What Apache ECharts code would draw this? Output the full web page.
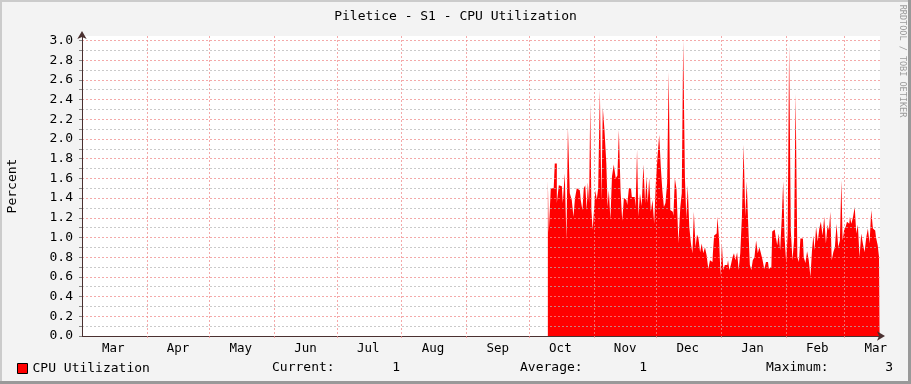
<!DOCTYPE html>
<html>
<head>
<meta charset="utf-8">
<script src="https://cdn.jsdelivr.net/npm/echarts@6/dist/echarts.min.js"></script>
<style>
html,body{margin:0;padding:0;background:#f3f3f3;}
#chart{width:911px;height:384px;}
</style>
</head>
<body>
<div id="chart"></div>
<script>
// ---------- data ----------
const chartTitle = 'Piletice - S1 - CPU Utilization';
const seriesName = 'CPU Utilization';
const yAxisTitle = 'Percent';
const startDate = Date.UTC(2010, 2, 1);   // left edge of the time axis (day 0)
const endDayOffset = 382;                  // right edge, days after start
const monthLabels = ['Mar','Apr','May','Jun','Jul','Aug','Sep','Oct','Nov','Dec','Jan','Feb','Mar'];
const statLabels = ['Current:', 'Average:', 'Maximum:'];
const statValues = ['1', '1', '3'];

const daysSinceStart = [
223.0,223.9,224.9,225.8,226.8,227.8,228.7,229.7,230.6,231.6,232.2,233.0,234.0,234.9,235.6,236.4,237.3,238.3,239.2,239.9,
240.5,241.3,241.9,242.4,243.1,243.5,244.2,244.7,245.5,246.1,246.7,247.5,248.3,249.0,249.6,250.6,251.4,251.8,252.6,253.3,
254.1,255.0,256.0,256.6,257.4,258.2,259.0,259.8,260.6,261.4,
262.2,262.8,263.6,264.6,265.4,266.0,266.7,267.5,268.3,269.2,269.9,270.5,271.1,271.9,272.7,273.5,274.3,275.1,275.9,276.7,
277.4,278.2,278.9,279.7,280.5,281.2,282.0,282.8,283.4,284.2,285.0,286.0,286.8,287.4,288.2,289.0,289.6,290.3,291.1,291.9,
292.5,293.3,294.1,294.7,295.5,296.3,297.0,297.8,298.6,299.4,300.2,301.0,301.8,
302.2,303.0,303.8,304.6,305.4,305.9,306.7,307.3,308.1,308.9,309.6,310.2,311.0,311.8,312.4,313.2,314.0,314.7,315.5,316.3,
317.1,317.9,318.5,319.3,320.1,320.7,321.5,322.3,323.1,323.9,324.6,325.4,326.2,327.0,327.8,328.4,329.2,330.0,330.8,331.6,
332.4,333.2,333.8,334.6,335.4,335.9,336.7,337.5,338.1,338.9,339.7,340.5,341.2,
342.0,342.9,343.5,344.3,345.1,345.9,346.7,347.5,348.3,349.1,349.8,350.4,351.0,351.8,352.6,353.3,354.1,354.9,355.7,356.5,
357.3,357.9,358.5,359.3,360.0,360.8,361.6,362.4,363.2,363.8,364.4,365.2,365.9,366.5,367.3,367.9,368.7,369.5,370.3,371.0,
371.8,372.6,373.4,374.2,375.0,375.8,376.6,377.4,378.2,379.0,379.7,380.5,381.3,381.8
];
const cpuValues = [
1.58,1.05,1.50,1.50,1.75,1.35,1.53,1.52,1.35,1.65,0.97,2.12,1.45,1.38,1.21,1.40,1.50,1.48,1.38,1.28,
1.50,1.53,1.28,1.56,1.35,2.36,1.28,1.08,1.28,1.48,1.38,1.50,2.50,1.37,2.32,2.09,1.75,1.31,1.48,1.18,
1.62,1.74,1.60,1.63,2.09,1.48,1.17,1.40,1.38,1.33,
1.50,1.50,1.41,1.41,1.31,1.89,1.21,1.45,1.32,1.74,1.35,1.62,1.35,1.60,1.26,1.38,1.14,1.56,1.82,2.04,
1.72,1.48,1.31,1.35,1.55,2.68,1.28,1.26,1.22,1.60,1.49,0.94,1.31,1.45,3.00,1.62,1.19,1.53,1.11,0.94,
0.84,1.26,0.90,1.03,0.99,0.85,0.94,0.84,0.90,0.82,0.68,0.77,0.75,
0.84,1.02,1.04,1.21,0.97,0.61,0.94,0.67,0.72,0.72,0.77,0.67,0.72,0.80,0.84,0.77,0.85,0.67,0.84,1.21,
1.94,1.21,1.57,1.14,0.72,0.67,0.77,0.80,0.97,0.84,0.90,0.84,0.77,0.68,0.75,0.75,0.68,0.70,1.06,1.08,
1.02,0.92,1.04,0.87,1.21,1.57,1.01,0.74,1.04,2.95,1.07,0.77,0.97,
2.46,0.80,0.75,0.99,0.99,0.80,0.74,0.86,0.77,0.60,0.87,1.02,0.87,1.11,0.96,1.09,1.16,1.02,1.21,0.94,
1.13,1.07,1.26,0.77,0.85,0.90,1.14,0.90,0.97,1.58,0.97,1.07,1.11,1.16,1.14,1.21,1.14,1.21,1.31,1.04,
1.13,0.80,1.04,0.94,0.85,1.00,1.09,0.94,1.28,1.09,1.07,1.00,0.92,0.80
];

// ---------- build ----------
const DAY = 86400000;
const seriesData = daysSinceStart.map((d, i) => [d, cpuValues[i]]);
const dayOf = (y, m, d) => (Date.UTC(y, m, d) - startDate) / DAY;
const monthStarts = monthLabels.map((_, i) => dayOf(2010, 2 + i, 1)).slice(1);
const monthMids = monthLabels.map((_, i) => dayOf(2010, 2 + i, 16));

const FONT = '"DejaVu Sans Mono", monospace';
const MAJOR = 'rgba(240,140,140,0.75)';
const MINOR = 'rgba(180,180,180,0.7)';
const AXIS = '#4a3030';

const chart = echarts.init(document.getElementById('chart'), null, {renderer: 'canvas'});
chart.setOption({
  animation: false,
  backgroundColor: '#f3f3f3',
  textStyle: {fontFamily: FONT},
  title: {
    text: chartTitle, left: 'center', top: 5,
    textStyle: {fontFamily: FONT, fontSize: 13, fontWeight: 'normal', color: '#000'}
  },
  legend: {
    data: [seriesName], left: 17, top: 362, padding: 0,
    icon: 'rect', itemWidth: 10, itemHeight: 10,
    itemStyle: {borderColor: '#000', borderWidth: 1},
    textStyle: {fontFamily: FONT, fontSize: 13, color: '#000'}
  },
  grid: {
    left: 82, right: 31, top: 36, bottom: 48,
    containLabel: false, outerBoundsMode: 'none',
    show: true, backgroundColor: '#ffffff', borderWidth: 0
  },
  xAxis: [{
    // month labels (mid-month)
    type: 'value',
    min: 0, max: endDayOffset,
    z: 3,
    axisLine: {show: true, onZero: false, lineStyle: {color: AXIS, width: 1},
      symbol: ['none', 'arrow'], symbolSize: [7, 8], symbolOffset: [0, 5]},
    axisTick: {show: false, customValues: monthMids},
    axisLabel: {
      customValues: monthMids, margin: 6, hideOverlap: false,
      fontFamily: FONT, fontSize: 12.5, color: '#000',
      formatter: function (v) {
        const idx = monthMids.indexOf(v);
        return idx >= 0 ? monthLabels[idx] : '';
      }
    },
    splitLine: {show: false}
  }, {
    // month boundaries (grid lines)
    type: 'value',
    min: 0, max: endDayOffset,
    position: 'bottom',
    z: 3,
    axisLine: {show: false, onZero: false},
    axisTick: {show: true, customValues: monthStarts, length: 3, lineStyle: {color: MAJOR, type: [2, 2]}},
    axisLabel: {show: false, customValues: monthStarts},
    splitLine: {show: true, lineStyle: {color: MAJOR, width: 1, type: [2, 2]}}
  }],
  yAxis: {
    type: 'value', min: 0, max: 3.045, interval: 0.1,
    z: 3,
    name: yAxisTitle, nameLocation: 'middle', nameGap: 63, nameRotate: 90,
    nameTextStyle: {fontFamily: FONT, fontSize: 13, color: '#000'},
    axisLine: {show: true, lineStyle: {color: AXIS, width: 1},
      symbol: ['none', 'arrow'], symbolSize: [7, 8], symbolOffset: [0, 5]},
    axisTick: {show: true, length: 3, lineStyle: {color: '#888'}},
    axisLabel: {
      margin: 9, showMaxLabel: false,
      fontFamily: FONT, fontSize: 13, color: '#000',
      formatter: function (v) {
        const t = Math.round(v * 10);
        return (t % 2 === 0 && Math.abs(v * 10 - t) < 1e-6) ? (t / 10).toFixed(1) : '';
      }
    },
    splitLine: {show: true, showMaxLine: false, lineStyle: {color: [MAJOR, MINOR], width: 1, type: [2, 2]}}
  },
  series: [{
    name: seriesName,
    type: 'line',
    step: 'middle',
    xAxisIndex: 0,
    data: seriesData,
    showSymbol: false, symbol: 'none',
    color: '#ff0000',
    lineStyle: {width: 0},
    areaStyle: {color: '#ff0000', opacity: 1},
    z: 2
  }],
  graphic: [
    {type: 'rect', left: 0, top: 0, shape: {width: 911, height: 2}, style: {fill: '#cbcbcb'}, silent: true},
    {type: 'rect', left: 0, top: 0, shape: {width: 2, height: 384}, style: {fill: '#cbcbcb'}, silent: true},
    {type: 'rect', left: 0, top: 381, shape: {width: 911, height: 3}, style: {fill: '#999999'}, silent: true},
    {type: 'rect', left: 908, top: 0, shape: {width: 3, height: 384}, style: {fill: '#999999'}, silent: true},
    {type: 'text', x: 902, y: 61, rotation: -Math.PI / 2,
      style: {text: 'RRDTOOL / TOBI OETIKER', fill: '#9a9a9a', font: '8.5px ' + FONT, textAlign: 'center', textVerticalAlign: 'middle'}},
    {type: 'text', x: 272, y: 368, style: {text: statLabels[0], fill: '#000', font: '13px ' + FONT, textAlign: 'left', textVerticalAlign: 'middle'}},
    {type: 'text', x: 400, y: 368, style: {text: statValues[0], fill: '#000', font: '13px ' + FONT, textAlign: 'right', textVerticalAlign: 'middle'}},
    {type: 'text', x: 520, y: 368, style: {text: statLabels[1], fill: '#000', font: '13px ' + FONT, textAlign: 'left', textVerticalAlign: 'middle'}},
    {type: 'text', x: 647, y: 368, style: {text: statValues[1], fill: '#000', font: '13px ' + FONT, textAlign: 'right', textVerticalAlign: 'middle'}},
    {type: 'text', x: 766, y: 368, style: {text: statLabels[2], fill: '#000', font: '13px ' + FONT, textAlign: 'left', textVerticalAlign: 'middle'}},
    {type: 'text', x: 893, y: 368, style: {text: statValues[2], fill: '#000', font: '13px ' + FONT, textAlign: 'right', textVerticalAlign: 'middle'}}
  ]
});
</script>
</body>
</html>
